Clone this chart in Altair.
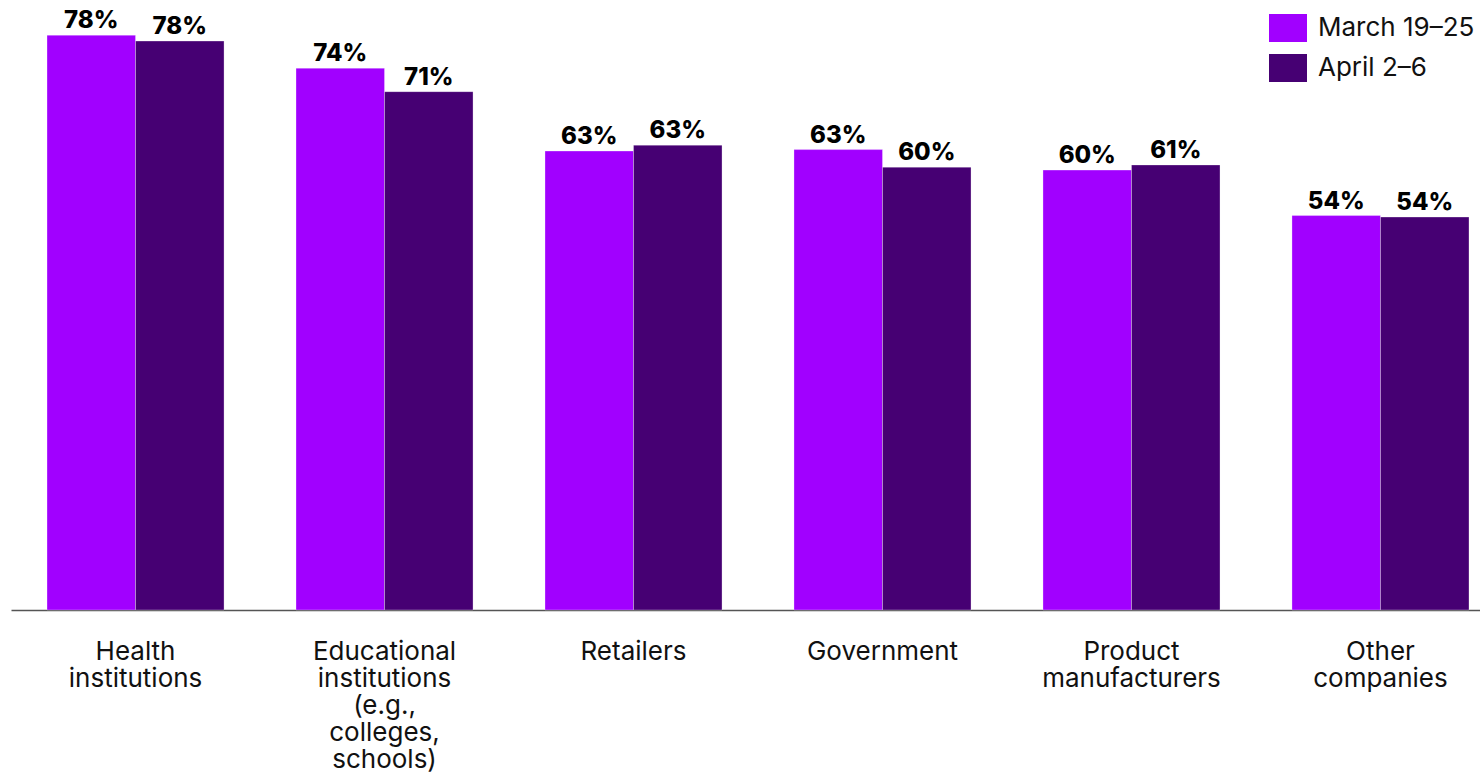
import altair as alt
import pandas as pd

categories = [
    "Health\ninstitutions",
    "Educational\ninstitutions\n(e.g.,\ncolleges,\nschools)",
    "Retailers",
    "Government",
    "Product\nmanufacturers",
    "Other\ncompanies",
]
series = ["March 19–25", "April 2–6"]
march = [78.4, 73.9, 62.6, 62.8, 60.0, 53.8]
april = [77.6, 70.7, 63.4, 60.4, 60.7, 53.6]
colors = ["#A100FF", "#460073"]

rows = []
for c, m, a in zip(categories, march, april):
    rows.append({"category": c, "period": series[0], "value": m})
    rows.append({"category": c, "period": series[1], "value": a})
df = pd.DataFrame(rows)

base = alt.Chart(df).transform_calculate(
    label="format(datum.value, '.0f') + '%'"
).encode(
    x=alt.X(
        "category:N",
        sort=categories,
        title=None,
        scale=alt.Scale(paddingInner=0.289, paddingOuter=0.0944, align=0.766),
        axis=alt.Axis(
            labelExpr="split(datum.label, '\\n')",
            labelAngle=0,
            ticks=False,
            domainColor="#555555",
            domainWidth=1.5,
            labelFont="Inter",
            labelFontSize=26,
            labelColor="#111111",
            labelPadding=28,
            labelLineHeight=27,
            labelLimit=0,
        ),
    ),
    xOffset=alt.XOffset("period:N", sort=series),
    y=alt.Y("value:Q", scale=alt.Scale(domain=[0, 83.2], nice=False), axis=None),
)

bars = base.mark_bar(stroke="white", strokeWidth=0.6, strokeOpacity=0.5).encode(
    color=alt.Color(
        "period:N",
        sort=series,
        scale=alt.Scale(domain=series, range=colors),
        legend=alt.Legend(
            title=None,
            orient="none",
            legendX=1258,
            legendY=9,
            symbolType="M-1,-0.737H1V0.737H-1Z",
            symbolSize=1444,
            symbolStrokeWidth=0,
            symbolOpacity=1,
            labelFont="Inter",
            labelFontSize=26,
            labelColor="#111111",
            labelOffset=11,
            rowPadding=6,
            padding=0,
        ),
    )
)

text = base.mark_text(
    baseline="alphabetic",
    dy=-7,
    font="Inter",
    fontSize=24,
    fontWeight=800,
    color="black",
).encode(text="label:N")

chart = (
    alt.layer(bars, text)
    .properties(
        width=1469,
        height=610,
        padding={"left": 11, "top": 0, "right": 0, "bottom": 170},
        autosize=alt.AutoSizeParams(type="none"),
        background="white",
    )
    .configure_view(stroke=None)
)

chart.save("out.html", embed_options={"renderer": "svg", "actions": False})
